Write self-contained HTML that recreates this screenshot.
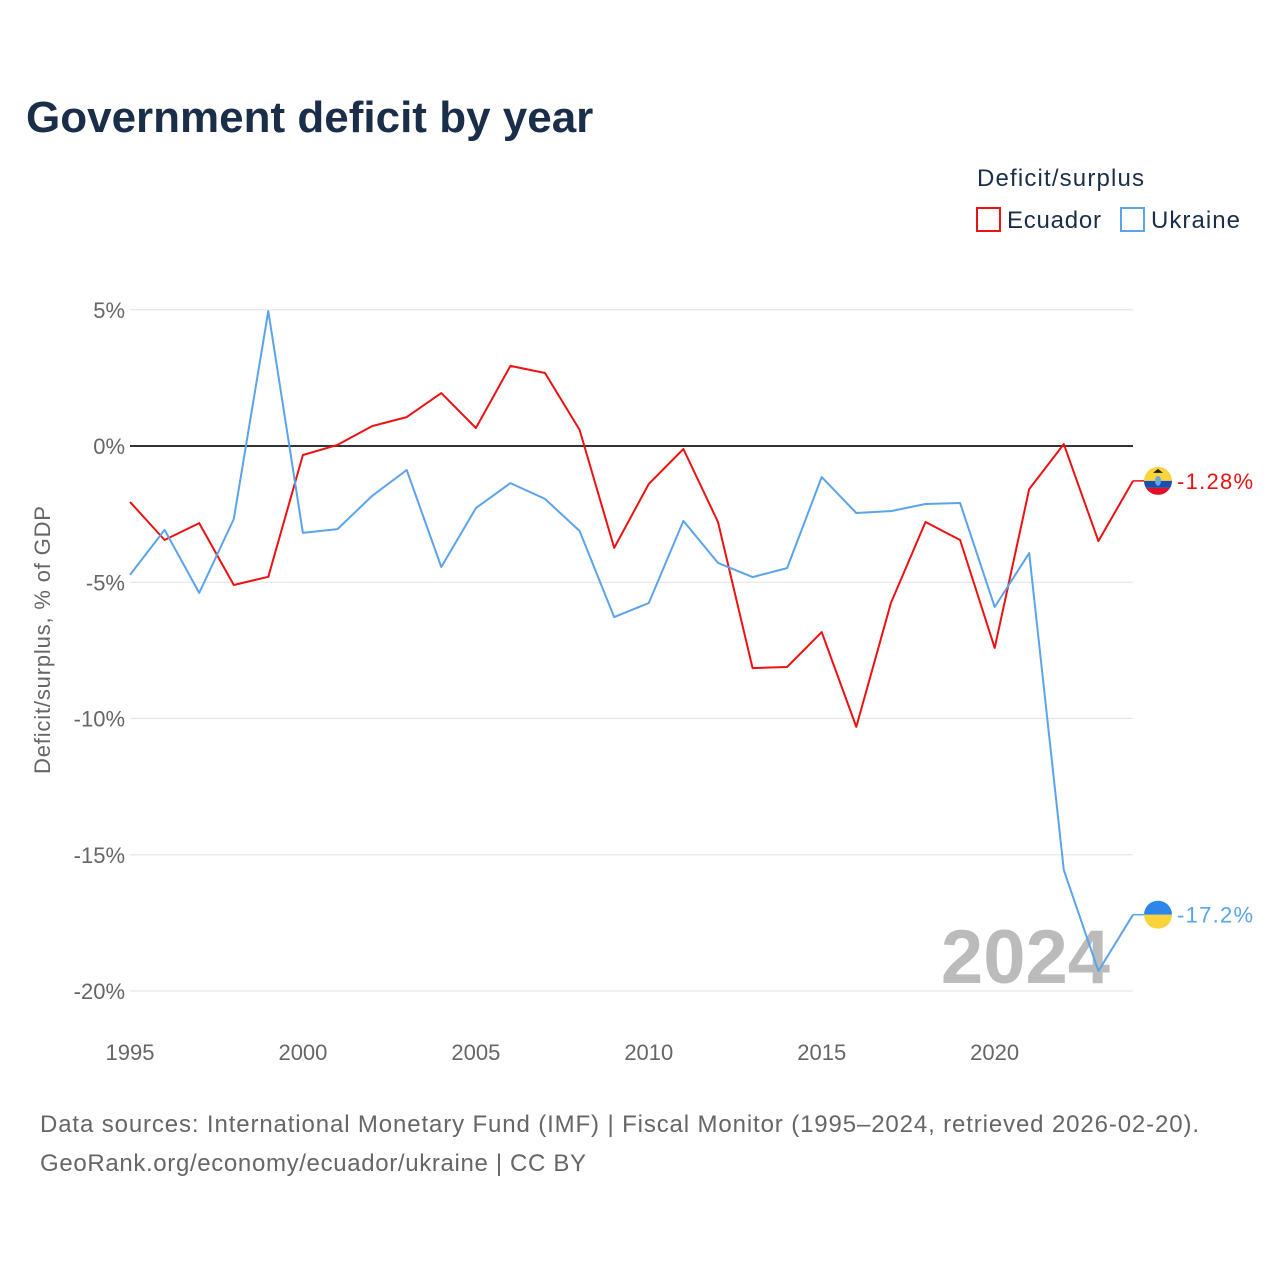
<!DOCTYPE html>
<html><head><meta charset="utf-8"><style>
body{margin:0;background:#fff;}
svg text{font-family:"Liberation Sans",sans-serif;}
</style></head><body>
<svg width="1280" height="1280" xmlns="http://www.w3.org/2000/svg" id="chart">
<text x="26" y="132" font-size="44" font-weight="bold" fill="#1a2e4a">Government deficit by year</text>
<text x="977" y="186" font-size="24" fill="#1a2e4a" textLength="167">Deficit/surplus</text>
<g><rect x="977" y="208" width="23" height="23" fill="none" stroke="#ee1111" stroke-width="2"/><text x="1007" y="228" font-size="24" fill="#1a2e4a" textLength="94">Ecuador</text></g>
<g><rect x="1121" y="208" width="23" height="23" fill="none" stroke="#5ba3ea" stroke-width="2"/><text x="1151" y="228" font-size="24" fill="#1a2e4a" textLength="89">Ukraine</text></g>
<g id="grid"></g>
<text transform="translate(50,640) rotate(-90)" text-anchor="middle" font-size="22" fill="#666" textLength="268">Deficit/surplus, % of GDP</text>
<text x="1110" y="983" text-anchor="end" font-size="76" font-weight="bold" fill="#bbb">2024</text>
<g id="series"></g>
<text x="40" y="1132" font-size="24" fill="#666" textLength="1159">Data sources: International Monetary Fund (IMF) | Fiscal Monitor (1995–2024, retrieved 2026-02-20).</text>
<text x="40" y="1171" font-size="24" fill="#666" textLength="546">GeoRank.org/economy/ecuador/ukraine | CC BY</text>
</svg>
<script>
const years=[1995,1996,1997,1998,1999,2000,2001,2002,2003,2004,2005,2006,2007,2008,2009,2010,2011,2012,2013,2014,2015,2016,2017,2018,2019,2020,2021,2022,2023,2024];
const ecuador=[-2.05,-3.45,-2.83,-5.1,-4.8,-0.33,0.04,0.73,1.06,1.94,0.66,2.94,2.68,0.59,-3.74,-1.39,-0.11,-2.79,-8.15,-8.11,-6.83,-10.31,-5.76,-2.79,-3.45,-7.41,-1.58,0.07,-3.49,-1.28];
const ukraine=[-4.73,-3.08,-5.39,-2.68,4.95,-3.19,-3.05,-1.83,-0.88,-4.44,-2.28,-1.36,-1.94,-3.12,-6.28,-5.76,-2.75,-4.29,-4.81,-4.48,-1.14,-2.46,-2.39,-2.13,-2.09,-5.91,-3.93,-15.56,-19.27,-17.2];
const yTicks=[5,0,-5,-10,-15,-20];
const xTicks=[1995,2000,2005,2010,2015,2020];
const NS="http://www.w3.org/2000/svg";
const X=y=>130+(y-1995)*(1133-130)/29;
const Y=v=>446-v*27.25;
function mk(t,a,p){const e=document.createElementNS(NS,t);for(const k in a)e.setAttribute(k,a[k]);p.appendChild(e);return e;}
const grid=document.getElementById('grid'),ser=document.getElementById('series');
yTicks.forEach(v=>{
 const l=mk('line',{x1:130,x2:1133,y1:Y(v),y2:Y(v),stroke:v===0?'#333':'#e6e6e6','stroke-width':v===0?2:1.3},grid);
 
 
 const t=mk('text',{x:125,y:Y(v)+8,'text-anchor':'end','font-size':22,fill:'#666'},grid);
 t.textContent=v+'%';
 
 
});
xTicks.forEach(y=>{
 const t=mk('text',{x:X(y),y:1060,'text-anchor':'middle','font-size':22,fill:'#666'},grid);
 t.textContent=y;
 
 
});
function line(vals,color,name){
 const d=vals.map((v,i)=>(i?'L':'M')+X(years[i]).toFixed(1)+','+Y(v).toFixed(1)).join('');
 const p=mk('path',{d:d,fill:'none',stroke:color,'stroke-width':2,'stroke-linejoin':'round'},ser);
 
 
 const last=vals[vals.length-1],ly=Y(last);
 mk('line',{x1:1133,x2:1144,y1:ly,y2:ly,stroke:color,'stroke-width':1.5},ser);
 const t=mk('text',{x:1177,y:ly+8,'font-size':22,fill:color,textLength:76},ser);
 t.textContent=(Math.abs(last)>=10?last.toFixed(1):last.toFixed(2))+'%';
 
 
 return ly;
}
const ey=line(ecuador,'#ee1111','ecuador');
const uy=line(ukraine,'#5ba3ea','ukraine');
const fe=mk('g',{},ser);


const cp=mk('clipPath',{id:'ce'},fe);
mk('circle',{cx:1158,cy:ey,r:14},cp);
const ge=mk('g',{'clip-path':'url(#ce)'},fe);
mk('rect',{x:1144,y:ey-14,width:28,height:14,fill:'#f9d53a'},ge);
mk('rect',{x:1144,y:ey,width:28,height:7,fill:'#1a4fb0'},ge);
mk('rect',{x:1144,y:ey+7,width:28,height:7,fill:'#e0102a'},ge);
mk('ellipse',{cx:1158,cy:ey,rx:3,ry:5,fill:'#6aa6e0'},fe);
mk('path',{d:`M1153,${ey-8}L1163,${ey-8}L1158,${ey-12}Z`,fill:'#222'},fe);
const fu=mk('g',{},ser);


mk('path',{d:`M1144,${uy}A14,14 0 0 1 1172,${uy}Z`,fill:'#2e86e8'},fu);
mk('path',{d:`M1144,${uy}A14,14 0 0 0 1172,${uy}Z`,fill:'#fbd33a'},fu);
</script>
</body></html>
